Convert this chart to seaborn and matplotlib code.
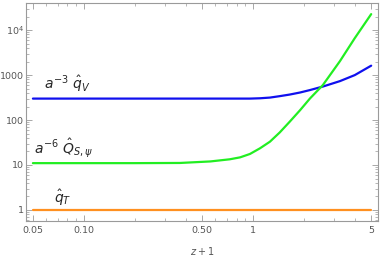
import numpy as np
import pandas as pd
import matplotlib
matplotlib.use("Agg")
import matplotlib.pyplot as plt
import matplotlib.ticker as mticker
import seaborn as sns

# values
z1 = [0.05, 0.1, 0.2, 0.37, 0.56, 0.73, 0.84, 0.96, 1.1, 1.26, 1.44, 1.65, 1.9, 2.17, 2.59, 3.27, 4.0, 5.0]
q_v = [300, 300, 300, 300, 300, 300, 300, 300, 305, 316, 340, 369, 410, 464, 556, 735, 1000, 1620]
q_s = [11, 11, 11, 11.1, 12, 13.4, 14.8, 17.6, 23.5, 33, 53, 92, 166, 300, 600, 2050, 6640, 22700]
q_t = [1, 1, 1, 1, 1, 1, 1, 1, 1, 1, 1, 1, 1, 1, 1, 1, 1, 1]

x_ticks = [0.05, 0.1, 0.5, 1, 5]
x_labels = ["0.05", "0.10", "0.50", "1", "5"]
y_ticks = [1, 10, 100, 1000, 10000]
y_labels = ["1", "10", "100", "1000", r"$10^4$"]

df = pd.DataFrame({"z1": z1 * 3,
                   "val": q_v + q_s + q_t,
                   "series": ["v"] * len(z1) + ["s"] * len(z1) + ["t"] * len(z1)})

sns.set_style("ticks")
plt.rcParams["font.family"] = ["DejaVu Sans"]
plt.rcParams["mathtext.fontset"] = "dejavusans"

grey = "#9a9a9a"
fig = plt.figure(figsize=(3.82, 2.56), dpi=100)
ax = fig.add_axes([0.068, 0.137, 0.922, 0.851])

palette = {"v": "#1010ee", "s": "#22ee22", "t": "#ff9020"}
sns.lineplot(data=df, x="z1", y="val", hue="series", palette=palette,
             linewidth=1.6, legend=False, ax=ax)

ax.set_xscale("log")
ax.set_yscale("log")
ax.set_xlim(0.0455, 5.5)
ax.set_ylim(0.57, 40000)

ax.set_xticks(x_ticks)
ax.set_xticklabels(x_labels)
ax.set_yticks(y_ticks)
ax.set_yticklabels(y_labels)
ax.yaxis.set_minor_locator(mticker.LogLocator(base=10, subs=np.arange(2, 10), numticks=20))
ax.yaxis.set_minor_formatter(mticker.NullFormatter())
ax.xaxis.set_minor_formatter(mticker.NullFormatter())

for s in ax.spines.values():
    s.set_color(grey)
    s.set_linewidth(0.8)
ax.tick_params(which="both", direction="in", top=True, right=True, color=grey,
               labelcolor="#555555", labelsize=6.8)
ax.tick_params(which="major", length=4, width=0.6)
ax.tick_params(which="minor", length=2, width=0.5)
ax.tick_params(axis="y", which="major", pad=1.5)

ax.set_xlabel(r"$z + 1$", fontsize=7, color="#555555", labelpad=7)
ax.set_ylabel("")

ax.text(0.058, 490, r"$a^{-3}\ \hat{q}_V$", fontsize=10)
ax.text(0.051, 18, r"$a^{-6}\ \hat{Q}_{S,\psi}$", fontsize=10)
ax.text(0.067, 1.45, r"$\hat{q}_T$", fontsize=10)

fig.savefig("out.png", dpi=100)
